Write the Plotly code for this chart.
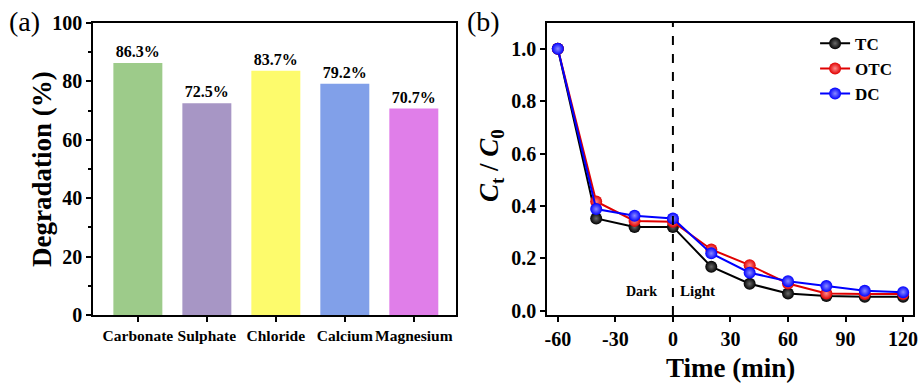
import plotly.graph_objects as go

# Panel (a): degradation in the presence of co-existing ions
ions = ["Carbonate", "Sulphate", "Chloride", "Calcium", "Magnesium"]
degradation = [86.3, 72.5, 83.7, 79.2, 70.7]
bar_colors = ["#9dcb8a", "#a796c5", "#fdfb6c", "#81a0e9", "#e07ee9"]

# Panel (b): Ct/C0 vs time for three tetracyclines
time_min = [-60, -40, -20, 0, 20, 40, 60, 80, 100, 120]
tc = [1.0, 0.352, 0.320, 0.320, 0.168, 0.103, 0.066, 0.056, 0.053, 0.053]
otc = [1.0, 0.417, 0.343, 0.340, 0.234, 0.174, 0.104, 0.066, 0.064, 0.064]
dc = [1.0, 0.388, 0.363, 0.352, 0.219, 0.145, 0.113, 0.094, 0.076, 0.071]
series = [("TC", tc, "#000000", "#6a6a6a"),
          ("OTC", otc, "#e00000", "#ff8a8a"),
          ("DC", dc, "#0000ff", "#8a8aff")]

FONT = "Liberation Serif"

fig = go.Figure()

fig.add_trace(go.Bar(
    x=list(range(len(ions))), y=degradation, width=0.71,
    marker=dict(color=bar_colors, line=dict(width=0)),
    text=[f"{v}%" for v in degradation], textposition="outside",
    textfont=dict(family=FONT, size=16, color="black"),
    texttemplate="<b>%{text}</b>", cliponaxis=False,
    xaxis="x", yaxis="y", showlegend=False,
))

for name, vals, col, hi in series:
    fig.add_trace(go.Scatter(
        x=time_min, y=vals, name=f"<b>{name}</b>", mode="lines+markers",
        line=dict(color=col, width=2),
        marker=dict(size=12, color=col, line=dict(width=0),
                    gradient=dict(type="radial", color=hi)),
        xaxis="x2", yaxis="y2",
    ))

axis_common = dict(showline=True, linecolor="black", linewidth=1.5, mirror=True,
                   ticks="outside", ticklen=5, tickwidth=1.5, tickcolor="black",
                   showgrid=False, zeroline=False, automargin=False)

fig.update_layout(
    width=921, height=385, margin=dict(l=0, r=0, t=0, b=0, autoexpand=False),
    paper_bgcolor="white", plot_bgcolor="white",
    font=dict(family=FONT, color="black"),
    xaxis=dict(**axis_common, domain=[0.101, 0.495], range=[-0.65, 4.61],
               tickvals=list(range(len(ions))),
               ticktext=[f"<b>{s}</b>" for s in ions], tickangle=0,
               tickfont=dict(size=15.5), ticklabelstandoff=1, anchor="y"),
    yaxis=dict(**axis_common, domain=[0.182, 0.940], range=[0, 100],
               tickvals=[0, 20, 40, 60, 80, 100],
               ticktext=[f"<b>{v}</b>" for v in [0, 20, 40, 60, 80, 100]],
               tickfont=dict(size=20),
               minor=dict(ticks="outside", ticklen=3, tickcolor="black",
                          dtick=10, tick0=0),
               anchor="x"),
    xaxis2=dict(**axis_common, domain=[0.594, 0.991], range=[-65.6, 125],
                tickvals=[-60, -30, 0, 30, 60, 90, 120],
                ticktext=[f"<b>{v}</b>" for v in [-60, -30, 0, 30, 60, 90, 120]],
                tickfont=dict(size=20), tickangle=0, ticklabelstandoff=0,
                anchor="y2"),
    yaxis2=dict(**axis_common, domain=[0.182, 0.940], range=[-0.016, 1.098],
                tickvals=[0, 0.2, 0.4, 0.6, 0.8, 1.0],
                ticktext=[f"<b>{v:.1f}</b>" for v in [0, 0.2, 0.4, 0.6, 0.8, 1.0]],
                tickfont=dict(size=20),
                anchor="x2"),
    legend=dict(x=0.885, y=0.933, xanchor="left", yanchor="top",
                bgcolor="rgba(0,0,0,0)", font=dict(size=17, family=FONT),
                tracegroupgap=0, itemwidth=30),
    bargap=0.3,
)

# axis titles
fig.add_annotation(xref="paper", yref="paper", x=42 / 921, y=1 - 169 / 385,
                   xanchor="center", yanchor="middle",
                   text="<b>Degradation (%)</b>", textangle=-90,
                   showarrow=False, font=dict(size=27))
fig.add_annotation(xref="paper", yref="paper", x=491 / 921, y=1 - 166 / 385,
                   xanchor="center", yanchor="middle",
                   text="<b><i>C</i><sub>t</sub> / <i>C</i><sub>0</sub></b>",
                   textangle=-90, showarrow=False, font=dict(size=27))
fig.add_annotation(xref="paper", yref="paper", x=730 / 921, y=1 - 368 / 385,
                   xanchor="center", yanchor="middle",
                   text="<b>Time (min)</b>", showarrow=False,
                   font=dict(size=27))

# dark/light boundary
fig.add_shape(type="line", xref="x2", yref="y2 domain", x0=0, x1=0, y0=0, y1=1,
              line=dict(color="black", width=2, dash="dash"))
fig.add_annotation(xref="x2", yref="y2", x=-7.5, y=0.075, text="<b>Dark</b>",
                   xanchor="right", showarrow=False, font=dict(size=14))
fig.add_annotation(xref="x2", yref="y2", x=2.5, y=0.075, text="<b>Light</b>",
                   xanchor="left", showarrow=False, font=dict(size=15))

# panel labels
fig.add_annotation(xref="paper", yref="paper", x=0.008, y=0.99, text="(a)",
                   xanchor="left", yanchor="top", showarrow=False,
                   font=dict(size=28))
fig.add_annotation(xref="paper", yref="paper", x=0.505, y=0.99, text="(b)",
                   xanchor="left", yanchor="top", showarrow=False,
                   font=dict(size=28))

fig.write_html("out.html")
